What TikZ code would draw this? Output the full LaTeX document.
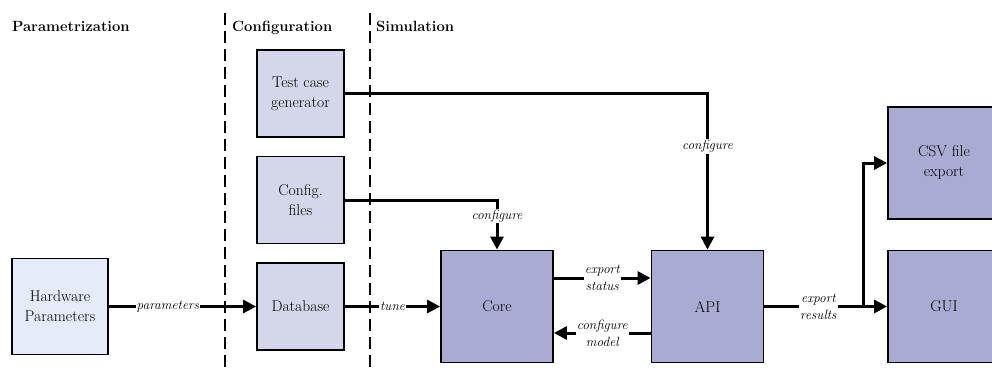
\documentclass[tikz,border=0pt]{standalone}
\usepackage{fontspec}
\usetikzlibrary{arrows.meta}
\definecolor{hwfill}{RGB}{230,235,250}
\definecolor{cfgfill}{RGB}{212,214,234}
\definecolor{simfill}{RGB}{169,171,211}
\begin{document}
\begin{tikzpicture}[x=1pt,y=-1pt,
 box/.style={draw=black,line width=1.8pt,inner sep=0pt,align=center,font=\fontsize{15.6}{20}\selectfont},
 smallbox/.style={box,minimum width=87pt,minimum height=87pt,fill=cfgfill},
 bigbox/.style={box,minimum width=112pt,minimum height=112pt,fill=simfill},
 conn/.style={line width=3pt,-{Triangle[length=13pt,width=13pt]}},
 lbl/.style={fill=white,inner sep=1pt,font=\fontsize{13.4}{17}\selectfont\itshape,align=center},
 hdr/.style={font=\fontsize{14.8}{20}\selectfont\bfseries,anchor=base west,inner sep=0pt},
 sepline/.style={line width=1.6pt,dash pattern=on 12pt off 6pt}]
\useasboundingbox (0,0) rectangle (992,369);
\clip (0,0) rectangle (992,369);

% headers
\node[hdr] (h1) at (12,32) {Parametrization};
\node[hdr] (h2) at (232,32) {Configuration};
\node[hdr] (h3) at (376,32) {Simulation};

% separators
\draw[sepline] (225,13) -- (225,375);
\draw[sepline] (370,13) -- (370,375);

% nodes
\node[box,minimum width=96pt,minimum height=96pt,fill=hwfill] (hw) at (60,306.5) {Hardware\\Parameters};
\node[smallbox] (tc) at (300.5,93.5) {Test case\\generator};
\node[smallbox] (cf) at (300.5,200) {Config.\\files};
\node[smallbox] (db) at (300.5,306.5) {Database};
\node[bigbox] (core) at (497,306.5) {Core};
\node[bigbox] (api) at (707.5,306.5) {API};
\node[bigbox] (csv) at (944,163) {CSV file\\export};
\node[bigbox] (gui) at (944,306.5) {GUI};
\coordinate (j) at (863,306.5);

% connectors
\draw[conn] (hw) -- node[lbl,pos=0.4]{parameters} (db);
\draw[conn] (db) -- node[lbl]{tune} (core);
\draw[conn] (tc.east) -| node[lbl,pos=0.67]{configure} (api.north);
\draw[conn] (cf.east) -| node[lbl,pos=0.66]{configure} (core.north);
\draw[conn] ([yshift=28.5pt]core.east) -- node[lbl]{export\\status} ([yshift=28.5pt]api.west);
\draw[conn] ([yshift=-26.5pt]api.west) -- node[lbl]{configure\\model} ([yshift=-26.5pt]core.east);
\draw[conn] (api) -- node[lbl,pos=0.44]{export\\results} (gui);
\draw[conn] (j) |- (csv.west);
\end{tikzpicture}
\end{document}
